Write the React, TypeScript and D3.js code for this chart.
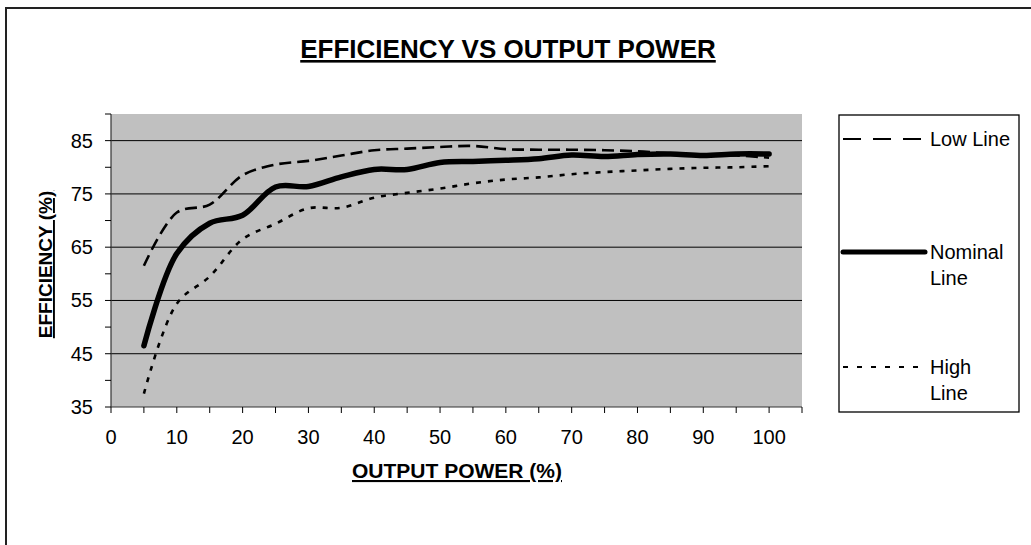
import React from "react";
import * as d3 from "d3";

// output power (%) sample points
const power = [5, 10, 15, 20, 25, 30, 35, 40, 45, 50, 55, 60, 65, 70, 75, 80, 85, 90, 95, 100];
const lowLine = [61.5, 71.5, 73.0, 78.5, 80.5, 81.2, 82.2, 83.2, 83.5, 83.8, 84.0, 83.4, 83.3, 83.3, 83.2, 83.0, 82.6, 82.3, 82.2, 81.8];
const nominalLine = [46.5, 63.8, 69.5, 71.0, 76.3, 76.4, 78.2, 79.6, 79.6, 80.9, 81.1, 81.3, 81.6, 82.3, 82.0, 82.4, 82.5, 82.2, 82.5, 82.5];
const highLine = [37.5, 54.4, 59.5, 66.5, 69.4, 72.3, 72.4, 74.3, 75.2, 76.0, 77.0, 77.7, 78.1, 78.7, 79.1, 79.4, 79.7, 79.9, 80.0, 80.2];
const xTickLabels = [0, 10, 20, 30, 40, 50, 60, 70, 80, 90, 100];
const yTickLabels = [35, 45, 55, 65, 75, 85];

const W = 1031;
const H = 545;
const FONT = "'Liberation Sans', Arial, sans-serif";

export default function App() {
  const x = d3.scaleLinear().domain([0, 105]).range([111, 802]);
  const y = d3.scaleLinear().domain([35, 90]).range([407, 114]);

  const line = d3
    .line<number>()
    .x((d, i) => x(power[i]))
    .y((d) => y(d))
    .curve(d3.curveCatmullRom.alpha(0.5));

  const minorX = d3.range(0, 106, 5);
  const minorY = d3.range(35, 91, 5);

  const series = [
    { name: ["Low Line"], data: lowLine, width: 2.6, dash: "12,6", ly: 139, legDash: "18,12" },
    { name: ["Nominal", "Line"], data: nominalLine, width: 5.5, dash: null, ly: 252, legDash: null },
    { name: ["High", "Line"], data: highLine, width: 2.6, dash: "5,7", ly: 367, legDash: "5,9" },
  ];

  return (
    <svg width={W} height={H} style={{ position: "absolute", left: 0, top: 0, background: "#fff" }} fontFamily={FONT}>
      {/* outer frame */}
      <rect x={6} y={8} width={W + 20} height={H + 20} fill="none" stroke="#222" strokeWidth={2} />

      {/* title */}
      <text x={508} y={58} textAnchor="middle" fontSize={26} fontWeight="bold" textDecoration="underline">
        EFFICIENCY VS OUTPUT POWER
      </text>

      {/* plot area */}
      <rect x={x(0)} y={y(90)} width={x(105) - x(0)} height={y(35) - y(90)} fill="#c0c0c0" />
      {yTickLabels.slice(1).map((v) => (
        <line key={"g" + v} x1={x(0)} x2={x(105)} y1={y(v)} y2={y(v)} stroke="#000" strokeWidth={1} />
      ))}

      {/* lines */}
      {series.map((s) => (
        <path
          key={s.name.join(" ")}
          d={line(s.data) || ""}
          fill="none"
          stroke="#000"
          strokeWidth={s.width}
          strokeDasharray={s.dash || undefined}
          strokeLinecap={s.dash ? "butt" : "round"}
        />
      ))}

      {/* axes */}
      <line x1={x(0)} x2={x(0)} y1={y(90)} y2={y(35)} stroke="#333" strokeWidth={1.2} />
      <line x1={x(0)} x2={x(105)} y1={y(35)} y2={y(35)} stroke="#333" strokeWidth={1.2} />
      {minorY.map((v) => (
        <line key={"yt" + v} x1={x(0) - 6} x2={x(0)} y1={y(v)} y2={y(v)} stroke="#000" />
      ))}
      {minorX.map((v) => (
        <line key={"xt" + v} x1={x(v)} x2={x(v)} y1={y(35)} y2={y(35) + 6} stroke="#000" />
      ))}
      {yTickLabels.map((v) => (
        <text key={"yl" + v} x={x(0) - 18} y={y(v)} dy="0.35em" textAnchor="end" fontSize={20}>
          {v}
        </text>
      ))}
      {xTickLabels.map((v) => (
        <text key={"xl" + v} x={x(v)} y={y(35) + 37} textAnchor="middle" fontSize={20}>
          {v}
        </text>
      ))}

      {/* axis titles */}
      <text x={457} y={478} textAnchor="middle" fontSize={21} fontWeight="bold" textDecoration="underline">
        OUTPUT POWER (%)
      </text>
      <text
        transform={`translate(52,${(y(35) + y(90)) / 2 + 4}) rotate(-90)`}
        textAnchor="middle"
        fontSize={19}
        fontWeight="bold"
        textDecoration="underline"
      >
        EFFICIENCY (%)
      </text>

      {/* legend */}
      <rect x={839} y={115} width={180} height={297} fill="#fff" stroke="#000" strokeWidth={1.3} />
      {series.map((s) => (
        <g key={"leg" + s.name.join(" ")}>
          <line
            x1={843}
            x2={s.dash ? 921 : 925}
            y1={s.ly}
            y2={s.ly}
            stroke="#000"
            strokeWidth={s.dash ? 2 : 5}
            strokeDasharray={s.legDash || undefined}
            strokeLinecap={s.dash ? "butt" : "round"}
          />
          {s.name.map((t, i) => (
            <text key={t + i} x={930} y={s.ly + i * 26} dy="0.35em" fontSize={20}>
              {t}
            </text>
          ))}
        </g>
      ))}
    </svg>
  );
}
